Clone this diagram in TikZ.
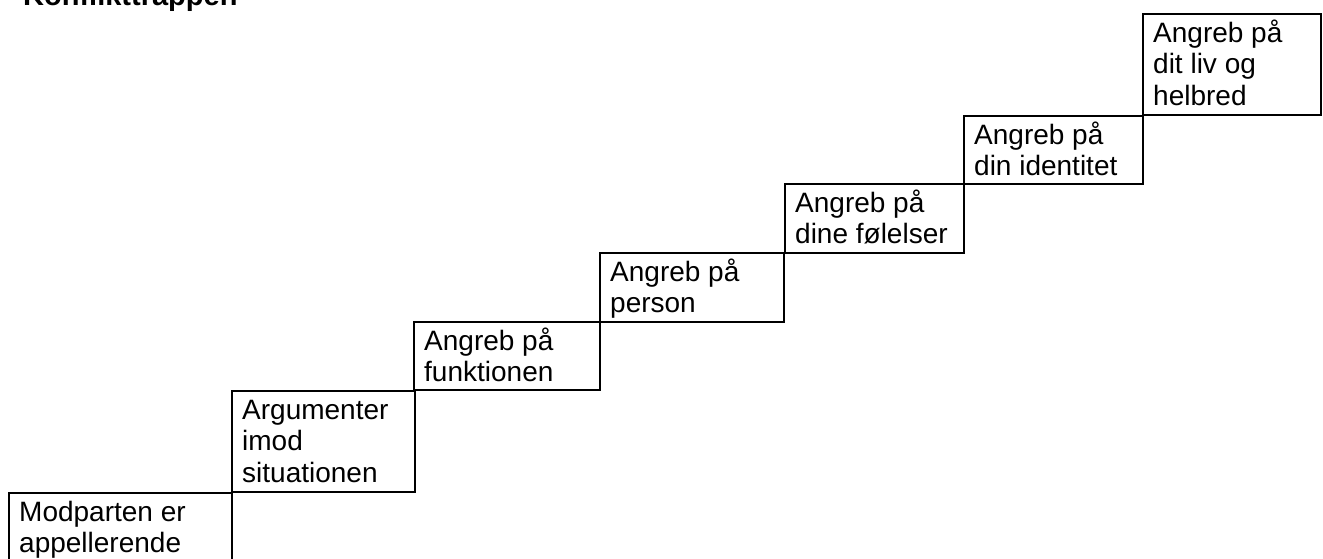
\documentclass[tikz,border=0pt]{standalone}
\usepackage{fontspec}
\setmainfont{Liberation Sans}
\tikzset{
  stepbox/.style={draw=black, line width=2pt, rectangle, anchor=north west, inner sep=0pt},
  steptext/.style={anchor=base west, inner sep=0pt, font=\fontsize{28}{31.5}\selectfont},
  titletext/.style={anchor=base west, inner sep=0pt, font=\fontsize{29}{34}\selectfont\bfseries}
}
\newcommand{\mklines}[1]{\parbox[t]{200pt}{\raggedright #1}}
\begin{document}
\begin{tikzpicture}[x=1pt,y=-1pt]
\useasboundingbox (0,0) rectangle (1323,558);
% title
\node[titletext] (title) at (23,5) {Konflikttrappen};
% boxes
\node[stepbox, minimum width=223pt, minimum height=90pt] (s1) at (8,492) {};
\node[stepbox, minimum width=183pt, minimum height=101pt] (s2) at (231,390) {};
\node[stepbox, minimum width=186pt, minimum height=68pt] (s3) at (413,321) {};
\node[stepbox, minimum width=184pt, minimum height=69pt] (s4) at (599,252) {};
\node[stepbox, minimum width=179pt, minimum height=69pt] (s5) at (784,183) {};
\node[stepbox, minimum width=179pt, minimum height=68pt] (s6) at (963,115) {};
\node[stepbox, minimum width=178pt, minimum height=101pt] (s7) at (1142,13) {};
% texts
\node[steptext] (t1) at (19,521) {\mklines{Modparten er\\appellerende}};
\node[steptext] (t2) at (242,419) {\mklines{Argumenter\\imod\\situationen}};
\node[steptext] (t3) at (424,350) {\mklines{Angreb på\\funktionen}};
\node[steptext] (t4) at (610,281) {\mklines{Angreb på\\person}};
\node[steptext] (t5) at (795,212) {\mklines{Angreb på\\dine følelser}};
\node[steptext] (t6) at (974,144) {\mklines{Angreb på\\din identitet}};
\node[steptext] (t7) at (1153,42) {\mklines{Angreb på\\dit liv og\\helbred}};
\end{tikzpicture}
\end{document}
